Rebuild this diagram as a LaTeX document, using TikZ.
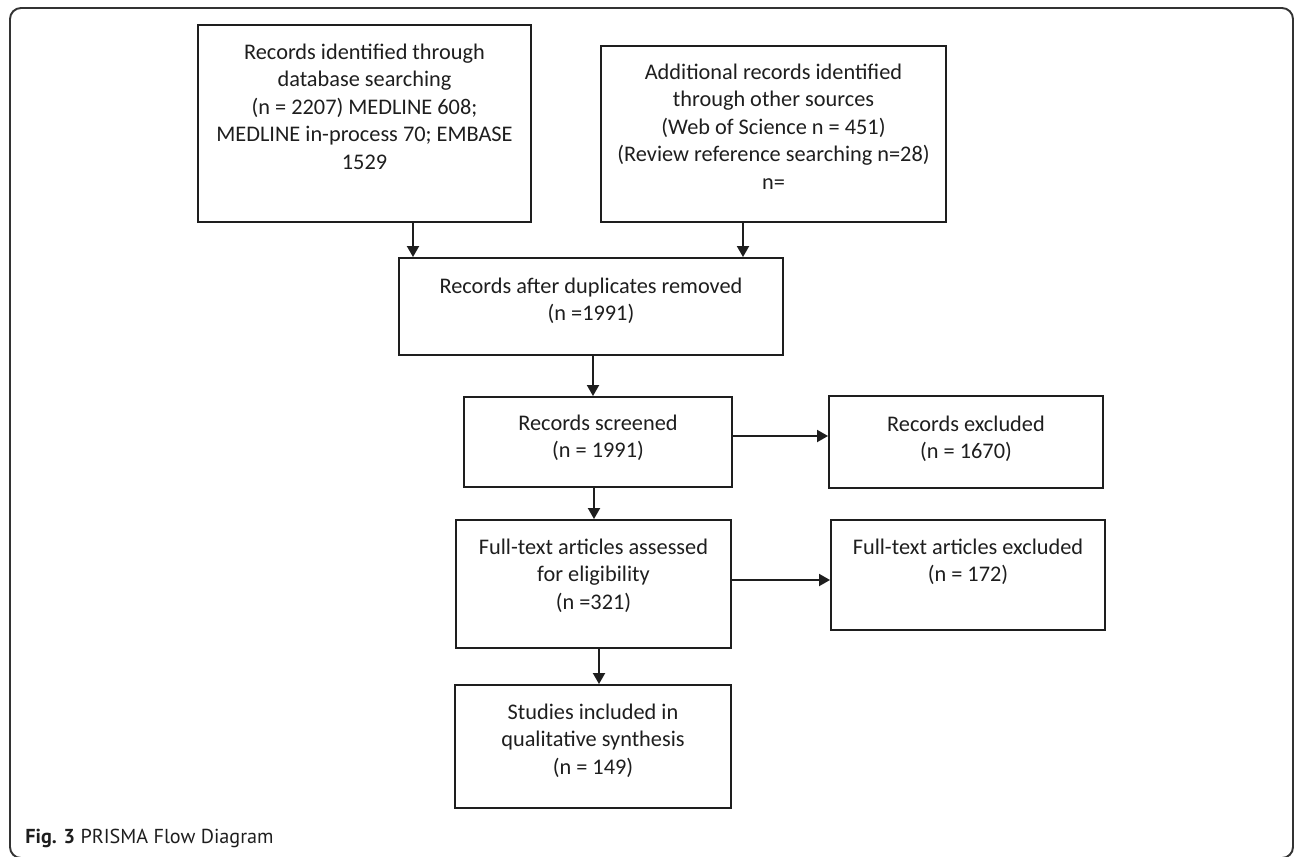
\documentclass[tikz,border=0pt]{standalone}
\usepackage{fontspec}
\setmainfont{Carlito}
\newfontfamily\capfont{PT Sans}
\usetikzlibrary{fit,arrows.meta}
\definecolor{ink}{HTML}{1E1E1E}
\begin{document}
\begin{tikzpicture}[x=0.02cm,y=-0.02cm,
  box/.style={draw=ink,line width=1.1pt,inner sep=0pt},
  txt/.style={anchor=north,align=center,inner sep=0pt,text=ink,font=\fontsize{12.7}{15.6}\selectfont},
  arr/.style={draw=ink,line width=1.1pt,-{Triangle[length=0.22cm,width=0.24cm]}},
  frame/.style={draw=black!80,line width=1.1pt,rounded corners=0.22cm}]
\useasboundingbox (0,0) rectangle (1295,856);
\draw[frame] (10,8) rectangle (1293,858);
% boxes
\node[box,fit={(198,25) (531,222)}] (b1) {};
\node[box,fit={(601,46) (946,222)}] (b2) {};
\node[box,fit={(399,258) (783,355)}] (b3) {};
\node[box,fit={(464,397) (732,487)}] (b4) {};
\node[box,fit={(829,396) (1103,488)}] (b5) {};
\node[box,fit={(456,520) (731,648)}] (b6) {};
\node[box,fit={(831,520) (1105,630)}] (b7) {};
\node[box,fit={(455,685) (731,808)}] (b8) {};
% texts
\node[txt] (t1) at ([yshift=-16*0.02cm]b1.north) {\strut Records identified through\\database searching\\(n = 2207) MEDLINE 608;\\MEDLINE in-process 70; EMBASE\\1529};
\node[txt] (t2) at ([yshift=-15*0.02cm]b2.north) {\strut Additional records identified\\through other sources\\(Web of Science n = 451)\\(Review reference searching n=28)\\n=};
\node[txt] (t3) at ([yshift=-17*0.02cm]b3.north) {\strut Records after duplicates removed\\(n =1991)};
\node[txt] (t4) at ([yshift=-15*0.02cm]b4.north) {\strut Records screened\\(n = 1991)};
\node[txt] (t5) at ([yshift=-17*0.02cm]b5.north) {\strut Records excluded\\(n = 1670)};
\node[txt] (t6) at ([yshift=-16*0.02cm]b6.north) {\strut Full-text articles assessed\\for eligibility\\(n =321)};
\node[txt] (t7) at ([yshift=-16*0.02cm]b7.north) {\strut Full-text articles excluded\\(n = 172)};
\node[txt] (t8) at ([yshift=-16*0.02cm]b8.north) {\strut Studies included in\\qualitative synthesis\\(n = 149)};
% connector guides
\coordinate (x1) at (413,0);
\coordinate (x2) at (743,0);
\coordinate (x3) at (593,0);
\coordinate (x4) at (594,0);
\coordinate (x5) at (599,0);
\coordinate (y1) at (0,436);
\coordinate (y2) at (0,580);
\draw[arr] (b1.south -| x1) -- (b3.north -| x1);
\draw[arr] (b2.south -| x2) -- (b3.north -| x2);
\draw[arr] (b3.south -| x3) -- (b4.north -| x3);
\draw[arr] (b4.east |- y1) -- (b5.west |- y1);
\draw[arr] (b4.south -| x4) -- (b6.north -| x4);
\draw[arr] (b6.east |- y2) -- (b7.west |- y2);
\draw[arr] (b6.south -| x5) -- (b8.north -| x5);
% caption
\node[anchor=base west,inner sep=0pt,text=ink,font=\capfont\fontsize{11.5}{14}\selectfont] (cap) at (25,843) {\textbf{Fig. 3} PRISMA Flow Diagram};
\end{tikzpicture}
\end{document}
